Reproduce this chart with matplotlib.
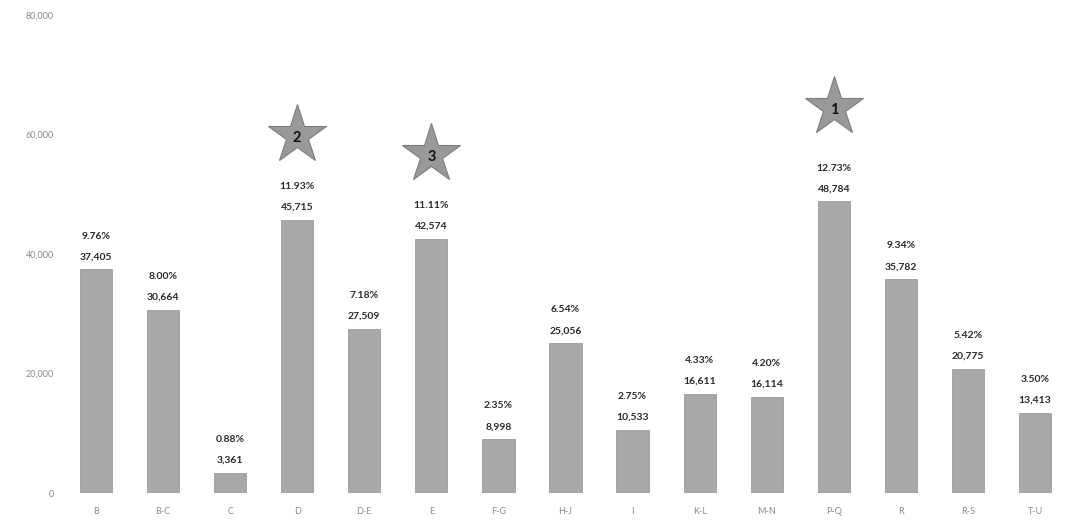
import matplotlib
matplotlib.use('Agg')
import matplotlib.pyplot as plt
from matplotlib.transforms import ScaledTranslation
import numpy as np

categories = ['B', 'B-C', 'C', 'D', 'D-E', 'E', 'F-G', 'H-J', 'I', 'K-L',
              'M-N', 'P-Q', 'R', 'R-S', 'T-U']
counts = [37405, 30664, 3361, 45715, 27509, 42574, 8998, 25056, 10533, 16611,
          16114, 48784, 35782, 20775, 13413]
shares = [9.76, 8.00, 0.88, 11.93, 7.18, 11.11, 2.35, 6.54, 2.75, 4.33,
          4.20, 12.73, 9.34, 5.42, 3.50]
# top three categories get a ranked star
top_ranks = {'P-Q': '1', 'D': '2', 'E': '3'}
y_ticks = [0, 20000, 40000, 60000, 80000]

plt.rcParams['font.family'] = ['Lato', 'DejaVu Sans']

fig = plt.figure(figsize=(10.66, 5.30), dpi=100)
ax = fig.add_axes([0.0585, 0.0698, 0.944, 0.902])

x = np.arange(len(categories))
ax.bar(x, counts, width=0.48, color='#a8a8a8', edgecolor='#9c9c9c', linewidth=0.6)

for xi, val, pct in zip(x, counts, shares):
    ax.annotate(f'{val:,}', (xi, val), xytext=(0, 9), textcoords='offset points',
                ha='center', va='center', fontsize=7.5, color='#2a2a2a',
                fontweight='bold')
    ax.annotate(f'{pct:.2f}%', (xi, val), xytext=(0, 24), textcoords='offset points',
                ha='center', va='center', fontsize=7.5, color='#2a2a2a',
                fontweight='bold')

for cat, rank in top_ranks.items():
    i = categories.index(cat)
    lift = 68 if rank == '1' else 61
    shift = ax.transData + ScaledTranslation(0, lift / 72, fig.dpi_scale_trans)
    ax.plot([i], [counts[i]], marker='*', markersize=44, color='#999999',
            markeredgecolor='#7c7c7c', markeredgewidth=0.8,
            transform=shift, clip_on=False)
    ax.annotate(rank, (i, counts[i]), xytext=(0, lift - 2), textcoords='offset points',
                ha='center', va='center', fontsize=10.5, color='#111111',
                fontweight='bold')

ax.set_xlim(-0.5, 14.5)
ax.set_ylim(0, 80000)
ax.set_yticks(y_ticks)
ax.set_yticklabels([f'{t:,}' for t in y_ticks])
ax.set_xticks(x)
ax.set_xticklabels(categories)
ax.tick_params(axis='both', length=0, labelsize=6.5, labelcolor='#8a8a8a')
ax.tick_params(axis='x', pad=10)
ax.tick_params(axis='y', pad=6)
for spine in ax.spines.values():
    spine.set_visible(False)

fig.savefig('out.png', dpi=100)
